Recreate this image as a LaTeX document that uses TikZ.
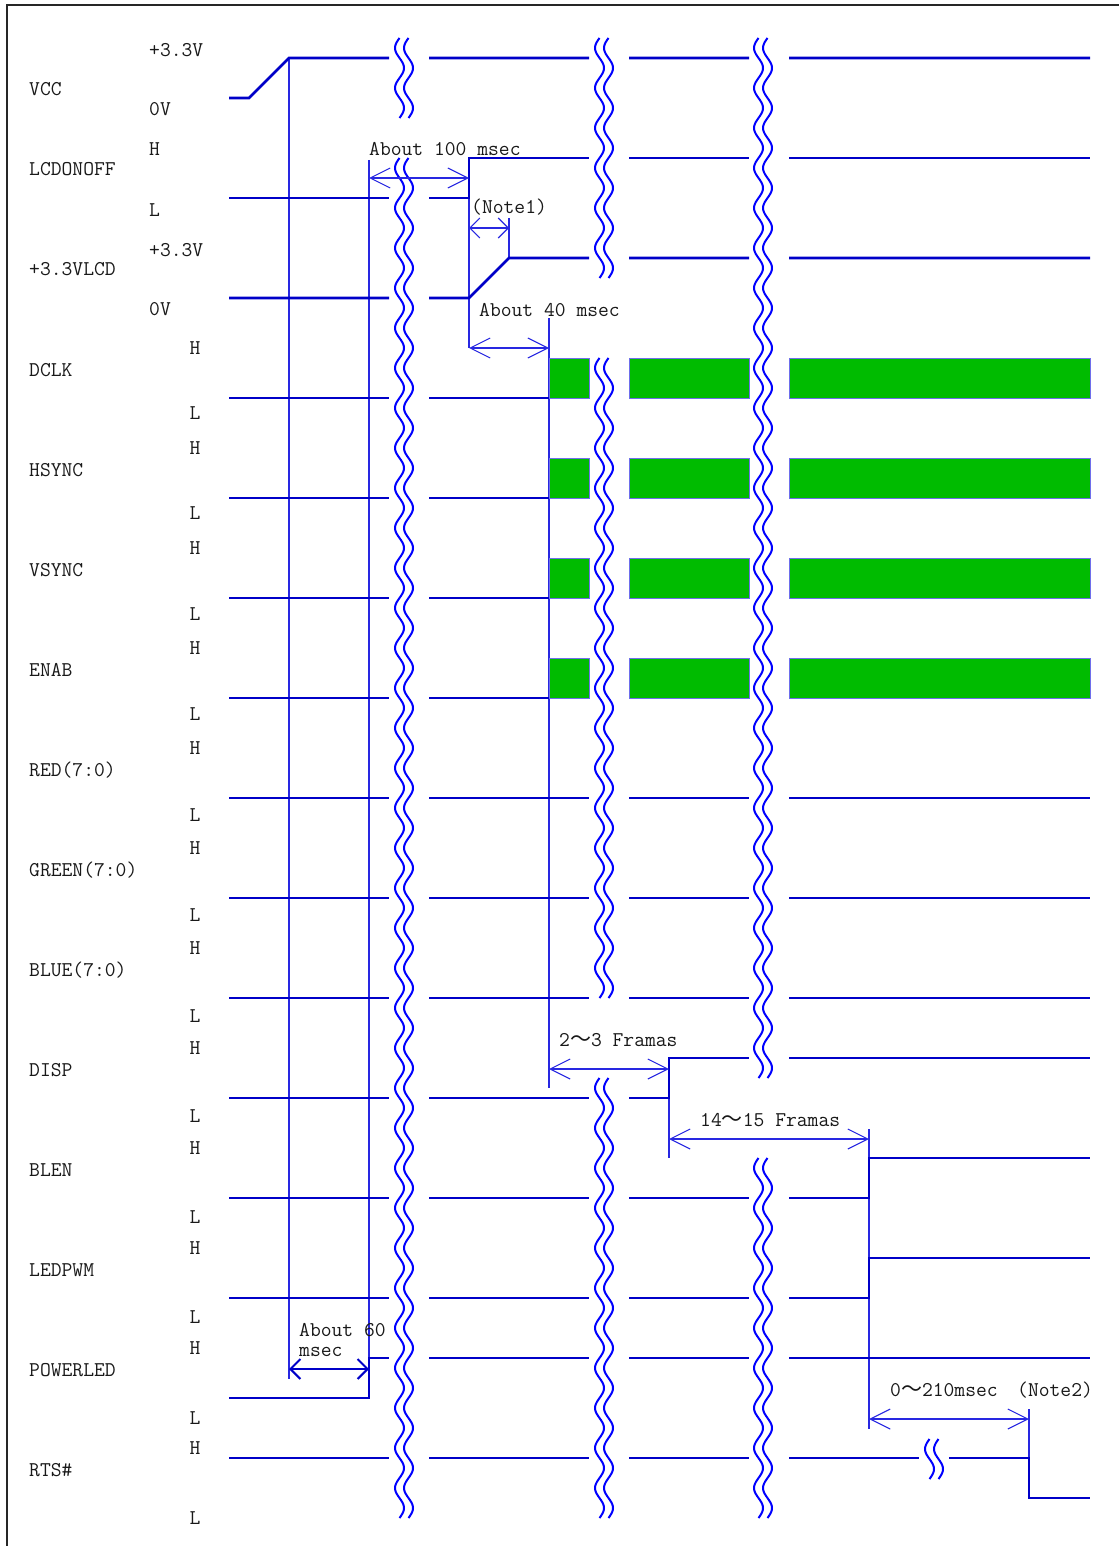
\documentclass[tikz,border=0pt]{standalone}
\usepackage{fontspec}
\newfontfamily\cjk{Noto Sans CJK SC}
\usetikzlibrary{arrows.meta}
\definecolor{sigblue}{RGB}{0,0,200}
\definecolor{annblue}{RGB}{40,40,225}
\definecolor{brkblue}{RGB}{0,0,255}
\definecolor{boxgreen}{RGB}{0,187,0}
\definecolor{boxedge}{RGB}{110,110,235}
\definecolor{txtgray}{RGB}{25,25,25}
\newcommand\lab{\fontsize{21}{23}\selectfont\ttfamily}
\newcommand\brkpair[4]{%
  \draw[brk] plot[domain=#2:#3, samples=#4, smooth] ({#1-4.5*sin(9*(\x-#2))},\x);
  \draw[brk] plot[domain=#2:#3, samples=#4, smooth] ({#1+9-4.5*sin(9*(\x-#2))},\x);
}
\begin{document}
\begin{tikzpicture}[x=1pt,y=-1pt,
  sig/.style={line width=2.6pt, draw=sigblue, line join=miter},
  ann/.style={line width=1.1pt, draw=annblue},
  brk/.style={line width=2pt, draw=brkblue},
  dim/.style={ann, {Straight Barb[length=20pt,width=20pt]}-{Straight Barb[length=20pt,width=20pt]}},
  dimshort/.style={ann, {Straight Barb[length=10pt,width=20pt]}-{Straight Barb[length=10pt,width=20pt]}},
  dimthick/.style={line width=2pt, draw=sigblue, {Straight Barb[length=10pt,width=20pt]}-{Straight Barb[length=10pt,width=20pt]}},
  txt/.style={inner sep=0pt, anchor=base west, font=\lab, text=txtgray},
  lvl/.style={inner sep=0pt, anchor=base, font=\lab, text=txtgray},
  gbox/.style={fill=boxgreen, draw=boxedge, line width=1pt}]
\useasboundingbox (0,0) rectangle (1119,1546);
% frame
\draw[line width=2pt, black!85] (7,1546) -- (7,5) -- (1119,5);

% signal names
\node[txt] (nVCC) at (29,96) {VCC};
\node[txt] (nLCD) at (29,176) {LCDONOFF};
\node[txt] (nV33) at (29,276) {+3.3VLCD};
\node[txt] (nDCLK) at (29,376) {DCLK};
\node[txt] (nHS) at (29,476) {HSYNC};
\node[txt] (nVS) at (29,576) {VSYNC};
\node[txt] (nEN) at (29,676) {ENAB};
\node[txt] (nRED) at (29,776) {RED(7:0)};
\node[txt] (nGRN) at (29,876) {GREEN(7:0)};
\node[txt] (nBLU) at (29,976) {BLUE(7:0)};
\node[txt] (nDISP) at (29,1076) {DISP};
\node[txt] (nBLEN) at (29,1176) {BLEN};
\node[txt] (nPWM) at (29,1276) {LEDPWM};
\node[txt] (nPLED) at (29,1376) {POWERLED};
\node[txt] (nRTS) at (29,1476) {RTS\#};

% level labels
\node[txt] (l1) at (149,57) {+3.3V};
\node[txt] (l2) at (149,116) {0V};
\node[txt] (l3) at (149,156) {H};
\node[txt] (l4) at (149,217) {L};
\node[txt] (l5) at (149,256) {+3.3V};
\node[txt] (l6) at (149,315) {0V};
\foreach \k in {0,...,11} {
  \pgfmathsetmacro\yh{354+100*\k}
  \pgfmathsetmacro\yl{419+100.5*\k}
  \node[lvl] (h\k) at (195,\yh) {H};
  \node[lvl] (lo\k) at (195,\yl) {L};
}

% extension lines
\draw[ann] (289,58) -- (289,1379);
\draw[ann] (369,160) -- (369,1358);
\draw[ann] (469,198) -- (469,348);
\draw[ann] (509,218) -- (509,258);
\draw[ann] (549,318) -- (549,1088);
\draw[ann] (669,1098) -- (669,1158);
\draw[ann] (869,1129) -- (869,1429);
\draw[ann] (1029,1409) -- (1029,1458);

% VCC
\draw[sig] (229,98) -- (249,98) -- (289,58) -- (389,58) (429,58) -- (589,58) (629,58) -- (749,58) (789,58) -- (1090,58);
% LCDONOFF
\draw[sig] (229,198) -- (389,198) (429,198) -- (469,198) -- (469,158) -- (589,158) (629,158) -- (749,158) (789,158) -- (1090,158);
% +3.3VLCD
\draw[sig] (229,298) -- (389,298) (429,298) -- (469,298) -- (509,258) -- (589,258) (629,258) -- (749,258) (789,258) -- (1090,258);
% clock-type rows
\foreach \t in {358,458,558,658} {
  \pgfmathsetmacro\b{\t+40}
  \draw[sig] (229,\b) -- (389,\b) (429,\b) -- (549,\b);
  \path[gbox] (549,\t) rectangle (589,\b);
  \path[gbox] (629,\t) rectangle (749,\b);
  \path[gbox] (789,\t) rectangle (1090,\b);
}
% RED GREEN BLUE
\foreach \y in {798,898,998} {
  \draw[sig] (229,\y) -- (389,\y) (429,\y) -- (589,\y) (629,\y) -- (749,\y) (789,\y) -- (1090,\y);
}
% DISP
\draw[sig] (229,1098) -- (389,1098) (429,1098) -- (589,1098) (629,1098) -- (669,1098) -- (669,1058) -- (749,1058) (789,1058) -- (1090,1058);
% BLEN, LEDPWM
\foreach \y in {1198,1298} {
  \pgfmathsetmacro\hh{\y-40}
  \draw[sig] (229,\y) -- (389,\y) (429,\y) -- (589,\y) (629,\y) -- (749,\y) (789,\y) -- (869,\y) -- (869,\hh) -- (1090,\hh);
}
% POWERLED
\draw[sig] (229,1398) -- (369,1398) -- (369,1358) -- (389,1358) (429,1358) -- (589,1358) (629,1358) -- (749,1358) (789,1358) -- (1090,1358);
% RTS#
\draw[sig] (229,1458) -- (389,1458) (429,1458) -- (589,1458) (629,1458) -- (749,1458) (789,1458) -- (919,1458) (949,1458) -- (1029,1458) -- (1029,1498) -- (1090,1498);

% break symbols
\brkpair{399.5}{38}{118}{41}
\brkpair{399.5}{158}{1518}{681}
\brkpair{599.5}{38}{278}{121}
\brkpair{599.5}{358}{998}{321}
\brkpair{599.5}{1078}{1518}{221}
\brkpair{758.5}{38}{1078}{521}
\brkpair{758.5}{1158}{1518}{181}
\brkpair{929.5}{1439}{1479}{21}

% dimension arrows
\coordinate (a100s) at (369,178); \coordinate (a100e) at (469,178);
\draw[dim] (a100s) -- (a100e);
\coordinate (n1s) at (469,228); \coordinate (n1e) at (509,228);
\draw[dimshort] (n1s) -- (n1e);
\coordinate (a40s) at (469,348); \coordinate (a40e) at (549,348);
\draw[dim] (a40s) -- (a40e);
\coordinate (f23s) at (549,1069); \coordinate (f23e) at (669,1069);
\draw[dim] (f23s) -- (f23e);
\coordinate (f14s) at (669,1139); \coordinate (f14e) at (869,1139);
\draw[dim] (f14s) -- (f14e);
\coordinate (m210s) at (869,1419); \coordinate (m210e) at (1029,1419);
\draw[dim] (m210s) -- (m210e);
\coordinate (a60s) at (289,1369); \coordinate (a60e) at (369,1369);
\draw[dimthick] (a60s) -- (a60e);

% annotation texts
\node[txt] (t100) at (369,156) {About 100 msec};
\node[txt] (tn1) at (471,214) {(Note1)};
\node[txt] (t40) at (479,316) {About 40 msec};
\node[txt] (t23) at (559,1046) {2{\cjk ～}3 Framas};
\node[txt] (t14) at (700,1126) {14{\cjk ～}15 Framas};
\node[txt] (t60a) at (299,1336) {About 60};
\node[txt] (t60b) at (299,1356) {msec};
\node[txt] (t210) at (890,1396) {0{\cjk ～}210msec};
\node[txt] (tn2) at (1017,1396) {(Note2)};
\end{tikzpicture}
\end{document}
